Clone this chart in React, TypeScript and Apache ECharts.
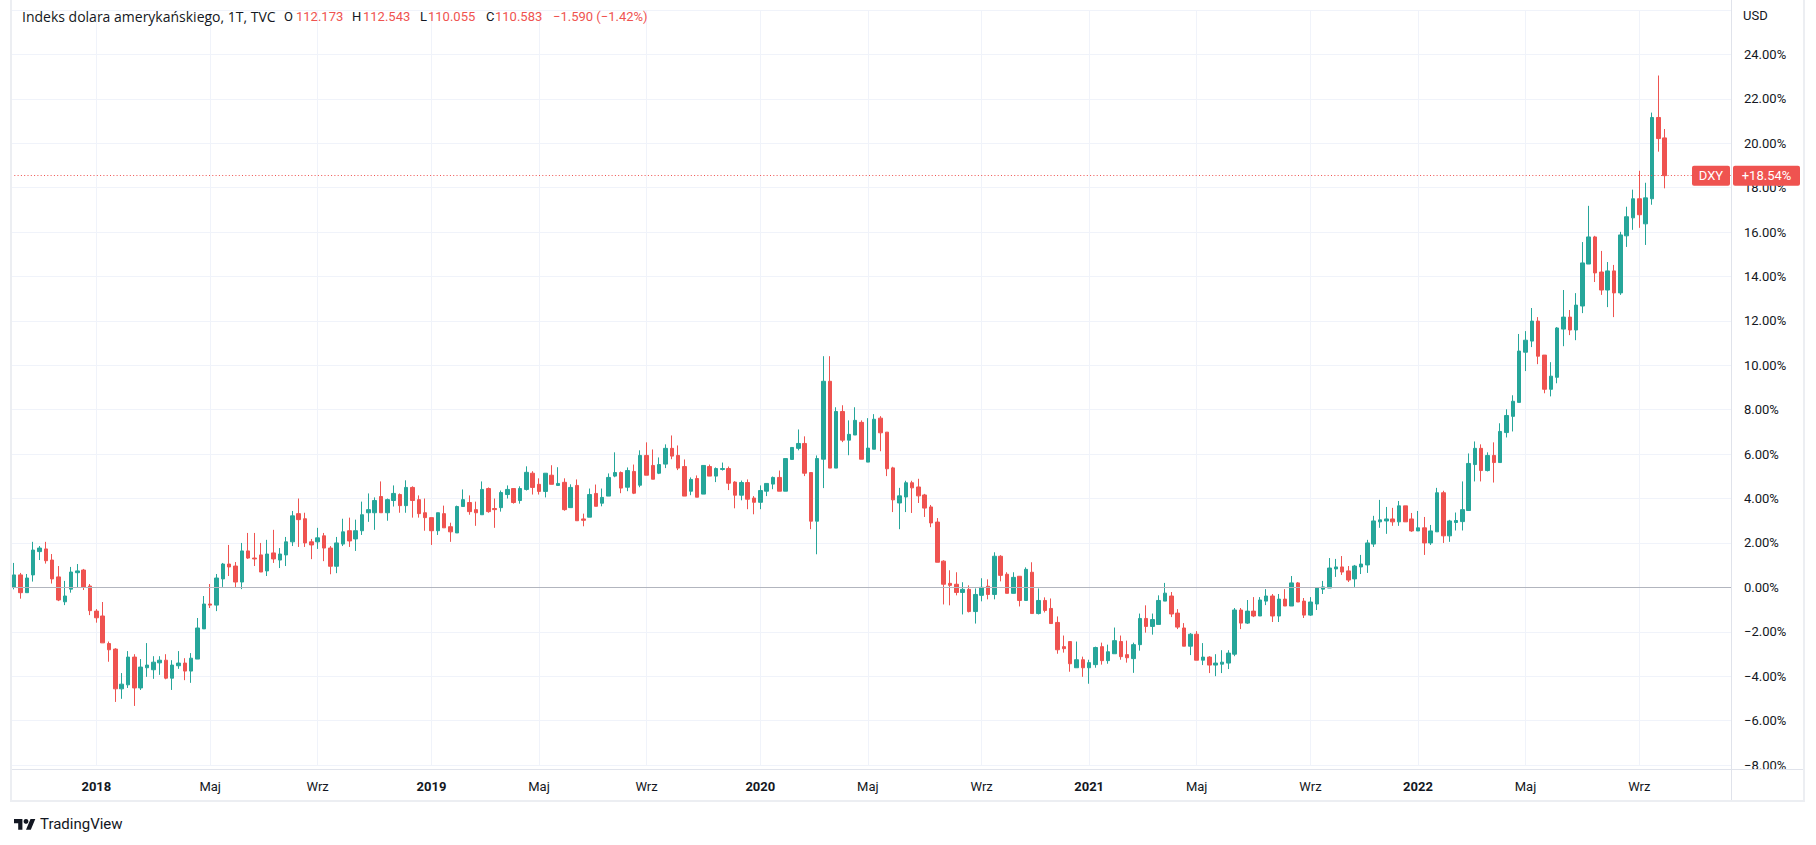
import React, { useEffect, useRef } from "react";
import * as echarts from "echarts";

// ---- weekly DXY candles, percent change vs. base (reading of the reference) ----
const START_WEEK_UTC = Date.UTC(2017, 9, 2); // first visible weekly bar (Mon 2 Oct 2017)
const TOTAL_SLOTS = 272; // visible bars + empty slots on the right

const opens = [
  0.00, 0.56, -0.24, 0.56, 1.61, 1.73, 1.23, 0.47, -0.65, -0.08,
  0.66, 0.78, 0.06, -1.07, -1.29, -2.53, -2.78, -4.57, -4.39, -3.14,
  -4.53, -3.62, -3.71, -3.40, -3.28, -4.09, -3.53, -3.41, -3.77, -3.23,
  -1.87, -0.75, -0.80, 0.38, 1.05, 0.96, 0.24, 1.64, 1.32, 1.46,
  0.74, 1.55, 1.23, 1.46, 2.05, 3.32, 3.09, 2.05, 2.05, 2.32,
  1.77, 0.95, 1.95, 2.55, 2.18, 2.55, 3.36, 3.36, 4.09, 3.36,
  3.91, 4.18, 3.68, 4.50, 3.95, 3.36, 3.14, 2.55, 3.32, 2.73,
  2.45, 3.64, 3.82, 3.50, 3.27, 4.45, 3.55, 3.59, 4.18, 4.45,
  3.91, 4.41, 5.14, 4.64, 4.32, 5.05, 4.59, 4.73, 3.59, 4.59,
  3.08, 3.16, 4.23, 3.79, 4.11, 5.01, 5.17, 4.51, 5.22, 4.60,
  5.94, 5.49, 5.14, 5.55, 6.26, 5.94, 5.44, 4.33, 4.90, 4.20,
  5.44, 5.01, 5.31, 5.35, 4.74, 4.15, 4.72, 4.02, 3.83, 4.33,
  4.65, 4.95, 4.33, 5.76, 6.26, 6.48, 5.17, 2.98, 5.77, 9.28,
  5.37, 7.92, 6.63, 6.86, 7.43, 5.64, 6.22, 7.62, 6.99, 5.38,
  3.80, 4.07, 4.71, 4.52, 4.16, 3.62, 2.94, 1.18, 0.18, 0.14,
  -0.23, -0.09, -1.09, -0.36, 0.05, -0.32, 1.40, 0.59, -0.27, 0.50,
  -0.59, 0.68, -1.18, -0.59, -0.95, -1.58, -2.67, -2.44, -3.62, -3.26,
  -3.62, -3.48, -2.67, -3.30, -2.99, -2.44, -3.03, -3.21, -2.58, -1.40,
  -1.76, -1.67, -0.62, -0.39, -1.16, -1.83, -2.65, -2.11, -3.28, -3.14,
  -3.50, -3.46, -3.41, -3.01, -1.02, -1.61, -1.07, -1.29, -0.62, -0.39,
  -1.29, -0.53, -0.84, 0.20, -0.62, -1.25, -0.75, -0.08, -0.03, 0.83,
  0.92, 0.74, 0.38, 0.92, 1.01, 1.95, 2.95, 2.99, 3.08, 2.95,
  3.67, 3.08, 2.54, 2.68, 2.00, 2.50, 4.26, 2.32, 2.92, 2.96,
  3.46, 5.53, 6.26, 5.26, 5.94, 5.62, 6.97, 7.70, 8.33, 10.59,
  11.09, 11.99, 10.46, 8.92, 9.46, 11.63, 12.17, 11.59, 12.67, 14.56,
  15.78, 14.20, 13.39, 14.25, 13.26, 15.83, 16.64, 17.50, 16.37, 17.50,
  21.16, 20.24,
];

const highs = [
  1.10, 0.65, 0.60, 2.05, 1.86, 2.05, 1.50, 0.96, 0.29, 0.92,
  1.05, 0.83, 0.15, -0.98, -0.66, -2.44, -2.74, -3.86, -2.87, -3.01,
  -3.23, -2.51, -3.10, -3.10, -3.01, -3.28, -2.87, -3.19, -2.96, -1.38,
  -0.39, 0.15, 0.60, 1.10, 1.91, 1.14, 2.00, 2.45, 2.45, 2.00,
  2.14, 2.59, 1.77, 2.27, 3.44, 4.00, 3.36, 2.18, 2.68, 2.45,
  1.86, 2.27, 3.09, 3.14, 3.05, 3.86, 4.23, 4.05, 4.77, 4.00,
  4.59, 4.23, 4.82, 4.55, 4.14, 4.00, 3.14, 3.36, 3.68, 2.91,
  3.68, 4.41, 4.14, 3.86, 4.77, 4.50, 4.00, 4.36, 4.59, 4.45,
  4.55, 5.45, 5.23, 4.91, 5.14, 5.50, 5.41, 4.91, 4.64, 4.86,
  3.32, 4.45, 4.63, 4.45, 5.13, 6.08, 5.22, 5.40, 5.53, 6.17,
  6.53, 6.21, 5.85, 6.44, 6.84, 6.39, 5.76, 4.95, 5.04, 5.49,
  5.53, 5.40, 5.62, 5.44, 4.78, 4.81, 4.86, 4.11, 4.59, 4.68,
  4.99, 5.26, 5.80, 6.30, 7.11, 6.80, 5.17, 5.94, 10.41, 10.41,
  8.11, 8.20, 7.52, 8.11, 7.52, 7.62, 7.80, 7.71, 6.99, 5.43,
  4.48, 4.80, 4.80, 4.89, 4.21, 3.71, 3.12, 1.22, 0.77, 0.68,
  0.23, 0.09, -0.05, 0.41, 0.36, 1.58, 1.45, 0.68, 0.68, 0.50,
  0.90, 1.13, -0.05, -0.45, -0.50, -1.31, -2.17, -2.44, -2.44, -3.12,
  -3.26, -2.67, -2.49, -2.58, -1.81, -2.17, -2.40, -2.49, -1.18, -0.81,
  -1.18, -0.36, 0.20, -0.21, -0.98, -1.61, -2.06, -1.97, -2.51, -3.10,
  -3.01, -2.83, -2.83, -0.93, -0.93, -0.57, -0.44, -0.44, -0.08, -0.30,
  -0.30, -0.08, 0.51, 0.24, -0.48, -0.44, -0.03, 0.29, 1.32, 1.28,
  1.41, 0.96, 1.01, 1.46, 2.14, 3.22, 3.94, 3.62, 3.58, 3.89,
  3.67, 3.35, 3.44, 3.17, 2.81, 4.48, 4.35, 3.04, 3.37, 4.77,
  6.03, 6.57, 6.44, 6.08, 6.53, 7.39, 8.02, 8.65, 11.41, 11.54,
  12.58, 12.17, 10.46, 10.14, 11.72, 13.39, 12.49, 13.25, 15.55, 17.18,
  15.83, 15.15, 14.65, 14.52, 16.01, 17.14, 17.91, 18.76, 18.22, 21.38,
  23.05, 20.64,
];

const lows = [
  -0.09, -0.51, -0.24, 0.26, 1.23, 1.07, 0.17, -0.62, -0.80, -0.24,
  0.00, -0.12, -1.25, -1.59, -2.50, -3.35, -5.16, -5.02, -4.53, -5.34,
  -4.62, -4.03, -4.12, -3.94, -4.14, -4.62, -3.67, -4.18, -4.30, -3.23,
  -1.87, -0.93, -1.07, 0.02, 0.51, -0.03, -0.08, 1.28, 0.96, 0.69,
  0.51, 1.10, 0.87, 0.96, 1.86, 1.82, 1.82, 1.27, 1.73, 1.18,
  0.59, 0.64, 1.86, 1.82, 1.64, 2.36, 2.95, 2.59, 3.36, 3.00,
  3.64, 3.36, 3.36, 3.14, 3.14, 2.55, 1.91, 2.36, 2.68, 2.05,
  2.45, 3.64, 3.27, 2.77, 3.27, 3.36, 2.68, 3.41, 4.00, 3.77,
  3.77, 4.36, 4.18, 4.18, 4.05, 4.64, 4.59, 3.45, 3.59, 3.00,
  2.75, 3.16, 3.65, 3.65, 4.11, 4.96, 4.24, 4.33, 4.20, 4.51,
  5.05, 4.87, 5.10, 5.37, 5.77, 5.28, 4.11, 4.15, 4.06, 4.20,
  5.01, 4.74, 5.26, 4.38, 3.56, 3.92, 3.52, 3.29, 3.52, 4.11,
  4.42, 4.33, 4.33, 5.76, 6.17, 5.01, 2.62, 1.49, 4.47, 5.37,
  5.37, 6.54, 5.95, 6.86, 5.77, 5.64, 6.22, 6.13, 5.01, 3.39,
  2.62, 3.39, 3.35, 3.80, 3.17, 2.71, 1.13, -0.77, -0.81, -0.36,
  -1.22, -1.13, -1.63, -0.63, -0.54, -0.54, 0.27, -0.27, -0.27, -0.86,
  -0.59, -1.18, -1.22, -1.13, -1.63, -2.99, -2.94, -3.80, -3.62, -4.03,
  -4.34, -3.62, -3.48, -3.44, -2.99, -3.26, -3.39, -3.85, -2.85, -2.04,
  -2.13, -1.67, -0.62, -1.34, -1.88, -2.65, -3.05, -3.28, -3.50, -3.86,
  -4.00, -3.86, -3.68, -3.10, -1.88, -1.65, -1.34, -1.29, -0.80, -1.56,
  -1.56, -0.84, -0.84, -0.66, -1.38, -1.29, -1.02, -0.30, -0.03, 0.47,
  0.56, 0.24, 0.02, 0.60, 0.65, 1.82, 2.68, 2.41, 2.77, 2.77,
  2.95, 2.50, 2.54, 1.46, 1.91, 2.50, 2.00, 2.05, 2.56, 2.56,
  3.46, 4.77, 4.77, 5.22, 4.72, 5.62, 6.75, 7.02, 8.33, 9.74,
  10.82, 10.05, 8.74, 8.60, 9.19, 10.86, 11.36, 11.13, 12.35, 14.56,
  13.75, 13.17, 12.62, 12.17, 13.17, 15.33, 16.10, 16.19, 15.42, 17.23,
  19.62, 17.97,
];

const closes = [
  0.56, -0.24, 0.42, 1.68, 1.77, 1.20, 0.38, -0.57, -0.39, 0.69,
  0.74, 0.02, -1.05, -1.37, -2.50, -2.81, -4.57, -4.36, -3.14, -4.53,
  -3.59, -3.50, -3.37, -3.28, -4.09, -3.50, -3.41, -3.77, -3.19, -1.83,
  -0.75, -0.80, 0.42, 1.05, 0.92, 0.24, 1.64, 1.32, 1.28, 0.69,
  1.50, 1.28, 1.50, 2.05, 3.22, 3.05, 2.00, 1.91, 2.23, 1.77,
  0.95, 2.00, 2.50, 2.09, 2.55, 3.27, 3.50, 3.91, 3.36, 3.95,
  4.23, 3.68, 4.50, 3.91, 3.32, 3.14, 2.55, 3.36, 2.68, 2.50,
  3.64, 3.95, 3.41, 3.36, 4.41, 3.41, 3.50, 4.27, 4.41, 3.82,
  4.45, 5.18, 4.50, 4.32, 5.14, 4.64, 4.68, 3.50, 4.50, 3.00,
  3.02, 4.18, 3.65, 4.05, 4.95, 5.17, 4.47, 5.26, 4.24, 5.94,
  5.05, 4.87, 5.53, 6.26, 5.91, 5.37, 4.11, 4.86, 4.06, 5.49,
  5.01, 5.35, 5.35, 4.69, 4.15, 4.72, 3.97, 3.83, 4.36, 4.68,
  4.95, 4.33, 5.80, 6.30, 6.48, 5.14, 2.98, 5.80, 9.28, 5.37,
  7.92, 6.63, 6.89, 7.52, 5.77, 6.27, 7.57, 6.96, 5.34, 3.94,
  4.12, 4.71, 4.48, 4.12, 3.57, 2.90, 1.13, 0.14, 0.09, -0.23,
  -0.09, -1.09, -0.32, 0.00, -0.32, 1.40, 0.54, -0.27, 0.45, -0.59,
  0.81, -1.18, -0.59, -1.04, -1.63, -2.81, -2.76, -3.44, -3.26, -3.62,
  -3.39, -2.71, -3.30, -2.90, -2.40, -3.12, -3.17, -2.58, -1.40, -1.76,
  -1.45, -0.59, -0.26, -1.20, -1.79, -2.65, -2.11, -3.28, -3.14, -3.50,
  -3.41, -3.37, -2.96, -1.02, -1.61, -1.07, -1.29, -0.57, -0.39, -1.29,
  -0.53, -0.84, 0.20, -0.66, -1.25, -0.66, -0.03, 0.02, 0.87, 0.92,
  0.69, 0.33, 0.96, 1.05, 2.00, 2.99, 3.04, 3.08, 2.95, 3.67,
  2.95, 2.54, 2.68, 2.00, 2.54, 4.26, 2.32, 2.99, 3.01, 3.50,
  5.58, 6.26, 5.26, 5.94, 5.62, 7.02, 7.74, 8.38, 10.64, 11.13,
  11.99, 10.41, 8.92, 9.51, 11.68, 12.17, 11.59, 12.71, 14.61, 15.78,
  14.16, 13.39, 14.25, 13.26, 15.87, 16.69, 17.50, 16.78, 17.54, 21.16,
  20.21, 18.54,
];

const LAST_CLOSE_PCT = 18.54;
const SYMBOL = "DXY";
const TITLE = "Indeks dolara amerykańskiego, 1T, TVC";
const OHLC_LAST = { O: "112.173", H: "112.543", L: "110.055", C: "110.583" };
const CHANGE_TEXT = "\u22121.590 (\u22121.42%)";
const MONTH_LABELS: Record<number, string> = { 4: "Maj", 8: "Wrz" };
const Y_TICKS = { min: -8, max: 26, step: 2 };

// ---- styles ----
const UP = "#26a69a";
const DOWN = "#ef5350";
const TEXT = "#131722";
const GRID = "#f0f3fa";
const BORDER = "#e0e3eb";
const FONT = "Roboto, 'Noto Sans', sans-serif";
const TITLE_FONT = "'Open Sans', Roboto, sans-serif";

const categories: string[] = Array.from({ length: TOTAL_SLOTS }, (_, i) =>
  new Date(START_WEEK_UTC + i * 7 * 86400000).toISOString().slice(0, 10)
);
const monthOf = (i: number) => Number(categories[i].slice(5, 7)) - 1;
const isTick = (i: number) => {
  if (i <= 0) return false;
  const m = monthOf(i);
  return m !== monthOf(i - 1) && (m === 0 || m === 4 || m === 8);
};

const candleData: any[] = categories.map((_, i) =>
  i < closes.length ? [opens[i], closes[i], lows[i], highs[i]] : "-"
);

const fmtPct = (v: number) =>
  (v < 0 ? "\u2212" : "") + Math.abs(v).toFixed(2) + "%";

echarts.graphic.registerShape(
  "tvlogo",
  echarts.graphic.extendPath("M14 22H7V11H0V4h14v18zM28 22h-8l7.5-18h8L28 22z", {})
);

export default function App() {
  const ref = useRef<HTMLDivElement>(null);

  useEffect(() => {
    if (!ref.current) return;
    const chart = echarts.init(ref.current, undefined, { renderer: "svg" });
    chart.setOption({
      animation: false,
      backgroundColor: "#ffffff",
      grid: {
        left: 11,
        right: 85,
        top: 10,
        bottom: 80,
        containLabel: false,
        outerBoundsMode: "none",
        show: false,
      },
      xAxis: {
        type: "category",
        data: categories,
        boundaryGap: true,
        axisLine: { show: false },
        axisTick: { show: false },
        axisLabel: {
          interval: (i: number) => isTick(i),
          margin: 21,
          verticalAlign: "middle",
          color: TEXT,
          fontFamily: FONT,
          fontSize: 13,
          hideOverlap: false,
          formatter: (value: string) => {
            const m = Number(value.slice(5, 7)) - 1;
            if (m === 0) return "{y|" + value.slice(0, 4) + "}";
            return "{m|" + (MONTH_LABELS[m] || "") + "}";
          },
          rich: {
            y: { fontWeight: "bold", fontSize: 13, color: TEXT, fontFamily: FONT },
            m: { fontSize: 13, color: TEXT, fontFamily: FONT },
          },
        },
        splitLine: {
          show: true,
          interval: (i: number) => isTick(i),
          alignWithLabel: true,
          lineStyle: { color: GRID, width: 1 },
        },
      },
      yAxis: {
        type: "value",
        position: "right",
        min: Y_TICKS.min,
        max: Y_TICKS.max,
        interval: Y_TICKS.step,
        axisLine: { show: false },
        axisTick: { show: false },
        axisLabel: {
          margin: 13,
          align: "left",
          color: TEXT,
          fontFamily: FONT,
          fontSize: 13,
          formatter: (v: number) => (v >= Y_TICKS.max ? "" : fmtPct(v)),
        },
        splitLine: { show: true, lineStyle: { color: GRID, width: 1 } },
      },
      series: [
        {
          type: "candlestick",
          data: candleData,
          barWidth: 4,
          clip: true,
          itemStyle: {
            color: UP,
            color0: DOWN,
            borderColor: UP,
            borderColor0: DOWN,
            borderWidth: 1,
          },
          markLine: {
            silent: true,
            symbol: ["none", "none"],
            label: { show: false },
            emphasis: { disabled: true },
            data: [
              { yAxis: 0, lineStyle: { color: "#b2b5be", type: "solid", width: 1 } },
              { yAxis: LAST_CLOSE_PCT, lineStyle: { color: DOWN, type: [1, 2.3], width: 1, opacity: 1 } },
            ],
          },
        },
      ],
    });

    const yPx = chart.convertToPixel({ yAxisIndex: 0 }, LAST_CLOSE_PCT) as number;
    const txt = (text: string, x: number, y: number, fill: string, extra: any = {}) => ({
      type: "text",
      x,
      y,
      z: 100,
      silent: true,
      style: {
        text,
        fill,
        fontFamily: FONT,
        fontSize: 13,
        verticalAlign: "middle",
        align: "left",
        ...extra,
      },
    });

    chart.setOption({
      graphic: [
        // header
        txt(TITLE, 22, 16, TEXT, { fontFamily: TITLE_FONT, fontSize: 14 }),
        txt("O", 284, 16, TEXT),
        txt(OHLC_LAST.O, 296, 16, DOWN),
        txt("H", 352, 16, TEXT),
        txt(OHLC_LAST.H, 363, 16, DOWN),
        txt("L", 420, 16, TEXT),
        txt(OHLC_LAST.L, 428, 16, DOWN),
        txt("C", 486, 16, TEXT),
        txt(OHLC_LAST.C, 495, 16, DOWN),
        txt(CHANGE_TEXT, 553, 16, DOWN),
        // currency
        txt("USD", 1743, 15, TEXT),
        // frame & separators
        { type: "line", z: 90, silent: true, shape: { x1: 1731.5, y1: 0, x2: 1731.5, y2: 801 }, style: { stroke: BORDER, lineWidth: 1 } },
        { type: "line", z: 90, silent: true, shape: { x1: 11, y1: 769.5, x2: 1804, y2: 769.5 }, style: { stroke: BORDER, lineWidth: 1 } },
        { type: "line", z: 90, silent: true, shape: { x1: 11, y1: 0, x2: 11, y2: 802 }, style: { stroke: "#eceef2", lineWidth: 2 } },
        { type: "line", z: 90, silent: true, shape: { x1: 1804, y1: 0, x2: 1804, y2: 802 }, style: { stroke: "#eceef2", lineWidth: 2 } },
        { type: "line", z: 90, silent: true, shape: { x1: 10, y1: 801, x2: 1805, y2: 801 }, style: { stroke: "#eceef2", lineWidth: 2 } },
        // last price labels
        { type: "rect", z: 95, silent: true, shape: { x: 1692, y: yPx - 10, width: 38, height: 20, r: 2 }, style: { fill: DOWN } },
        txt(SYMBOL, 1711, yPx, "#ffffff", { align: "center" }),
        { type: "rect", z: 95, silent: true, shape: { x: 1733, y: yPx - 10, width: 67, height: 20, r: 2 }, style: { fill: DOWN } },
        txt("+" + LAST_CLOSE_PCT.toFixed(2) + "%", 1766.5, yPx, "#ffffff", { align: "center" }),
        // TradingView logo
        { type: "tvlogo", x: 14, y: 816.6, scaleX: 0.6, scaleY: 0.6, z: 100, silent: true, style: { fill: TEXT } },
        { type: "circle", z: 100, silent: true, shape: { cx: 14 + 20 * 0.6, cy: 816.6 + 8 * 0.6, r: 4 * 0.6 }, style: { fill: TEXT } },
        txt("TradingView", 40, 824, TEXT, { fontSize: 15 }),
      ],
    });

    return () => chart.dispose();
  }, []);

  return (
    <div
      ref={ref}
      style={{ position: "fixed", left: 0, top: 0, width: 1816, height: 845, background: "#ffffff" }}
    />
  );
}
